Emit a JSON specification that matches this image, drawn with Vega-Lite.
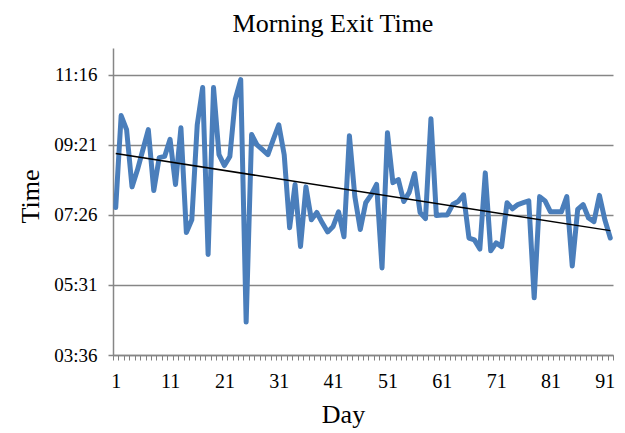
{
  "$schema": "https://vega.github.io/schema/vega-lite/v6.json",
  "autosize": {"type": "none"},
  "width": 500,
  "height": 307,
  "padding": {"left": 113, "top": 48, "right": 12, "bottom": 78},
  "title": {"text": "Morning Exit Time", "font": "Liberation Serif", "fontSize": 26, "fontWeight": "normal", "color": "#000000", "anchor": "middle", "dx": -30, "offset": 11},
  "data": {"values": [
    {"day": 1, "minutes": 458}, {"day": 2, "minutes": 609}, {"day": 3, "minutes": 586}, {"day": 4, "minutes": 492},
    {"day": 5, "minutes": 520}, {"day": 6, "minutes": 553}, {"day": 7, "minutes": 586}, {"day": 8, "minutes": 486},
    {"day": 9, "minutes": 540}, {"day": 10, "minutes": 542}, {"day": 11, "minutes": 570}, {"day": 12, "minutes": 496},
    {"day": 13, "minutes": 589}, {"day": 14, "minutes": 417}, {"day": 15, "minutes": 438}, {"day": 16, "minutes": 594},
    {"day": 17, "minutes": 655}, {"day": 18, "minutes": 381}, {"day": 19, "minutes": 655}, {"day": 20, "minutes": 545},
    {"day": 21, "minutes": 527}, {"day": 22, "minutes": 542}, {"day": 23, "minutes": 636}, {"day": 24, "minutes": 668},
    {"day": 25, "minutes": 270}, {"day": 26, "minutes": 578}, {"day": 27, "minutes": 561}, {"day": 28, "minutes": 553},
    {"day": 29, "minutes": 545}, {"day": 30, "minutes": 570}, {"day": 31, "minutes": 594}, {"day": 32, "minutes": 545},
    {"day": 33, "minutes": 425}, {"day": 34, "minutes": 496}, {"day": 35, "minutes": 394}, {"day": 36, "minutes": 492},
    {"day": 37, "minutes": 438}, {"day": 38, "minutes": 450}, {"day": 39, "minutes": 433}, {"day": 40, "minutes": 418},
    {"day": 41, "minutes": 427}, {"day": 42, "minutes": 451}, {"day": 43, "minutes": 410}, {"day": 44, "minutes": 576},
    {"day": 45, "minutes": 476}, {"day": 46, "minutes": 422}, {"day": 47, "minutes": 466}, {"day": 48, "minutes": 479},
    {"day": 49, "minutes": 496}, {"day": 50, "minutes": 359}, {"day": 51, "minutes": 581}, {"day": 52, "minutes": 499},
    {"day": 53, "minutes": 504}, {"day": 54, "minutes": 468}, {"day": 55, "minutes": 483}, {"day": 56, "minutes": 514},
    {"day": 57, "minutes": 450}, {"day": 58, "minutes": 440}, {"day": 59, "minutes": 604}, {"day": 60, "minutes": 445},
    {"day": 61, "minutes": 446}, {"day": 62, "minutes": 446}, {"day": 63, "minutes": 463}, {"day": 64, "minutes": 468},
    {"day": 65, "minutes": 479}, {"day": 66, "minutes": 408}, {"day": 67, "minutes": 405}, {"day": 68, "minutes": 390},
    {"day": 69, "minutes": 515}, {"day": 70, "minutes": 387}, {"day": 71, "minutes": 400}, {"day": 72, "minutes": 394},
    {"day": 73, "minutes": 466}, {"day": 74, "minutes": 456}, {"day": 75, "minutes": 463}, {"day": 76, "minutes": 466},
    {"day": 77, "minutes": 469}, {"day": 78, "minutes": 310}, {"day": 79, "minutes": 476}, {"day": 80, "minutes": 469},
    {"day": 81, "minutes": 451}, {"day": 82, "minutes": 451}, {"day": 83, "minutes": 451}, {"day": 84, "minutes": 476},
    {"day": 85, "minutes": 362}, {"day": 86, "minutes": 455}, {"day": 87, "minutes": 463}, {"day": 88, "minutes": 441},
    {"day": 89, "minutes": 435}, {"day": 90, "minutes": 478}, {"day": 91, "minutes": 438}, {"day": 92, "minutes": 408}
  ]},
  "encoding": {
    "x": {
      "field": "day", "type": "ordinal",
      "scale": {"type": "band", "paddingInner": 0, "paddingOuter": 0},
      "axis": {
        "title": "Day", "titleFont": "Liberation Serif", "titleFontSize": 26, "titleFontWeight": "normal", "titleColor": "#000000",
        "titleX": 230, "titleY": 67, "titleAlign": "center", "titleBaseline": "alphabetic",
        "labelExpr": "(datum.value - 1) % 10 === 0 ? datum.label : ''",
        "labelAngle": 0, "labelOverlap": false, "labelFont": "Liberation Serif", "labelFontSize": 20, "labelColor": "#000000",
        "labelPadding": 11, "labelBaseline": "top",
        "tickBand": "extent", "tickSize": 5, "tickColor": "#7f7f7f", "tickWidth": 1,
        "domainColor": "#868686", "domainWidth": 1.5, "grid": false
      }
    },
    "y": {
      "field": "minutes", "type": "quantitative",
      "scale": {"domain": [216, 720], "nice": false, "zero": false},
      "axis": {
        "title": "Time", "titleFont": "Liberation Serif", "titleFontSize": 26, "titleFontWeight": "normal", "titleColor": "#000000",
        "titleX": -83, "titleY": 148, "titleAlign": "center", "titleBaseline": "middle", "titleAngle": -90,
        "values": [216, 331, 446, 561, 676],
        "labelExpr": "(floor(datum.value/60) < 10 ? '0' : '') + floor(datum.value/60) + ':' + (datum.value % 60 < 10 ? '0' : '') + (datum.value % 60)",
        "labelFont": "Liberation Serif", "labelFontSize": 19, "labelColor": "#000000", "labelPadding": 11,
        "tickSize": 5, "tickColor": "#868686", "tickWidth": 1.5,
        "domainColor": "#868686", "domainWidth": 1.5,
        "grid": true, "gridColor": "#868686", "gridWidth": 1.5
      }
    }
  },
  "layer": [
    {
      "mark": {"type": "line", "color": "#4a7ebb", "strokeWidth": 5, "strokeJoin": "round", "strokeCap": "round"}
    },
    {
      "transform": [{"regression": "minutes", "on": "day"}],
      "mark": {"type": "line", "color": "#000000", "strokeWidth": 1.5}
    }
  ],
  "config": {"view": {"stroke": null}, "font": "Liberation Serif"}
}
